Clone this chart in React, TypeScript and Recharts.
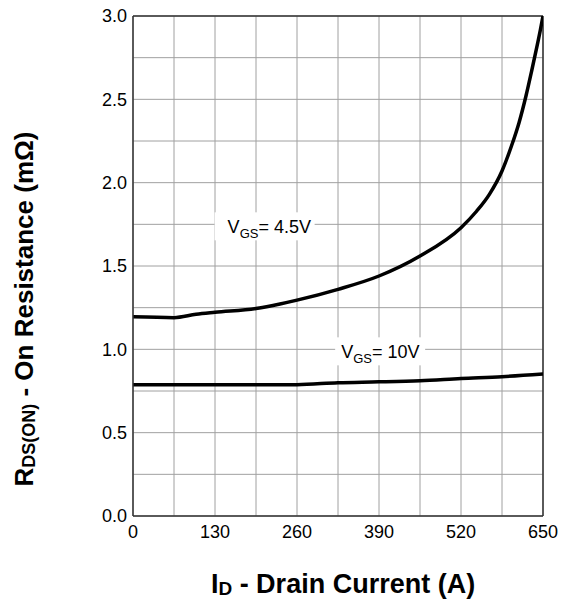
import React from "react"
import {
  LineChart,
  Line,
  XAxis,
  YAxis,
  CartesianGrid,
  ReferenceLine,
  ReferenceDot,
  Label,
} from "recharts"

// I_D (A) and R_DS(on) (mOhm)
const current45 = [0, 65, 100, 130, 195, 233, 260, 325, 390, 455, 520, 545, 565, 585, 600, 612, 623, 632, 640, 646, 650]
const rds45 = [1.195, 1.19, 1.21, 1.222, 1.245, 1.272, 1.295, 1.36, 1.44, 1.56, 1.73, 1.83, 1.93, 2.07, 2.22, 2.36, 2.52, 2.67, 2.81, 2.92, 3.0]

const current10 = [0, 130, 260, 325, 390, 455, 520, 585, 650]
const rds10 = [0.787, 0.787, 0.788, 0.8, 0.805, 0.812, 0.825, 0.836, 0.852]

const xTicks = [0, 130, 260, 390, 520, 650]
const yTicks = [0, 0.5, 1.0, 1.5, 2.0, 2.5, 3.0]
const xGrid = [0, 65, 130, 195, 260, 325, 390, 455, 520, 585, 650]
const yGrid = [0, 0.25, 0.5, 0.75, 1.0, 1.25, 1.5, 1.75, 2.0, 2.25, 2.5, 2.75, 3.0]

const data45 = current45.map((id, i) => ({ id, r: rds45[i] }))
const data10 = current10.map((id, i) => ({ id, r: rds10[i] }))

const FONT = "'Liberation Sans', Arial, Helvetica, sans-serif"

// label with a white box that hides the grid behind it
function curveLabel(value: string, boxLeft: number, boxWidth: number) {
  return (props: any) => {
    const { cx, cy } = props
    return (
      <g>
        <rect x={cx - boxLeft} y={cy - 12} width={boxWidth} height={28} fill="#fff" />
        <text x={cx} y={cy + 9} fontSize={18} fill="#000" fontFamily={FONT}>
          V
          <tspan fontSize={13} dy={5}>GS</tspan>
          <tspan dy={-5}>{"= " + value}</tspan>
        </text>
      </g>
    )
  }
}

export default function App() {
  return (
    <div>
      <style>{`body{margin:0}`}</style>
      <LineChart
        width={568}
        height={599}
        margin={{ top: 16, right: 25, left: 0, bottom: 0 }}
        style={{ fontFamily: FONT }}
      >
        <CartesianGrid
          stroke="#a0a0a0"
          strokeWidth={1}
          horizontalValues={yGrid}
          verticalValues={xGrid}
        />
        <XAxis
          type="number"
          dataKey="id"
          domain={[0, 650]}
          ticks={xTicks}
          allowDataOverflow
          height={83}
          tickLine={false}
          tickSize={0}
          tickMargin={9}
          stroke="#333"
          strokeWidth={1.5}
          tick={{ fill: "#000", fontSize: 18 }}
        >
          <Label
            content={() => (
              <text x={343} y={593} textAnchor="middle" fontSize={27} fontWeight="bold" fill="#000" fontFamily={FONT}>
                I<tspan fontSize={19} dy={2}>D</tspan>
                <tspan dy={-2}> - Drain Current (A)</tspan>
              </text>
            )}
          />
        </XAxis>
        <YAxis
          type="number"
          domain={[0, 3]}
          ticks={yTicks}
          allowDataOverflow
          width={133}
          tickLine={false}
          tickSize={0}
          tickMargin={6}
          stroke="#333"
          strokeWidth={1.5}
          tick={{ fill: "#000", fontSize: 18 }}
          tickFormatter={(v: number) => v.toFixed(1)}
        >
          <Label
            content={() => (
              <text
                x={33}
                y={309}
                transform="rotate(-90 33 309)"
                textAnchor="middle"
                fontSize={26}
                fontWeight="bold"
                fill="#000"
                fontFamily={FONT}
              >
                R<tspan fontSize={18} dy={2}>DS(ON)</tspan>
                <tspan dy={-2}> - On Resistance (mΩ)</tspan>
              </text>
            )}
          />
        </YAxis>
        <ReferenceLine y={3} stroke="#333" strokeWidth={1.5} />
        <ReferenceLine x={650} stroke="#333" strokeWidth={1.5} />
        <ReferenceDot x={150} y={1.75} r={0} shape={curveLabel("4.5V", 13, 100)} />
        <ReferenceDot x={330} y={1.0} r={0} shape={curveLabel("10V", 6, 90)} />
        <Line
          data={data45}
          dataKey="r"
          type="monotone"
          stroke="#000"
          strokeWidth={3.5}
          dot={false}
          isAnimationActive={false}
        />
        <Line
          data={data10}
          dataKey="r"
          type="monotone"
          stroke="#000"
          strokeWidth={3.5}
          dot={false}
          isAnimationActive={false}
        />
      </LineChart>
    </div>
  )
}
